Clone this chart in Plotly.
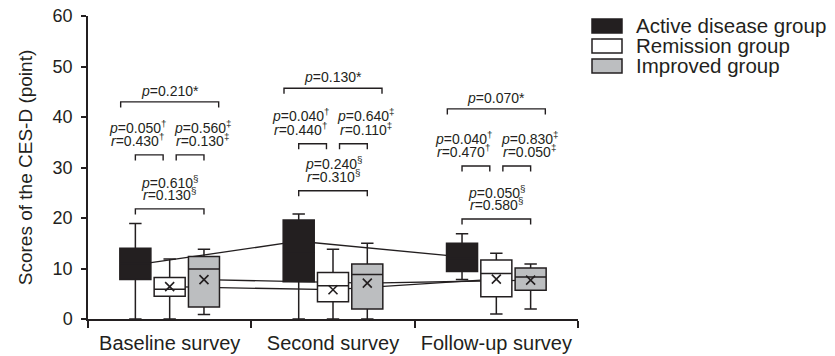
import plotly.graph_objects as go

# ---------------- data ----------------
groups = ["Baseline survey", "Second survey", "Follow-up survey"]
series = ["Active disease group", "Remission group", "Improved group"]

active_q1 = [7.8, 7.4, 9.4]
active_median = [11.0, 13.0, 12.0]
active_q3 = [14.0, 19.6, 15.0]
active_low = [0.0, 0.0, 7.8]
active_high = [18.9, 20.8, 16.9]
active_mean = [10.7, 15.4, 12.3]

remission_q1 = [4.5, 3.4, 4.4]
remission_median = [5.9, 6.6, 9.0]
remission_q3 = [8.2, 9.2, 11.7]
remission_low = [0.0, 0.0, 1.0]
remission_high = [11.9, 13.8, 13.0]
remission_mean = [6.4, 5.8, 7.9]

improved_q1 = [2.4, 2.0, 5.7]
improved_median = [9.9, 8.8, 8.3]
improved_q3 = [12.4, 10.9, 10.1]
improved_low = [0.9, 0.0, 2.0]
improved_high = [13.8, 15.0, 10.9]
improved_mean = [7.8, 7.1, 7.7]

# statistics text (overall, active vs remission, remission vs improved, active vs improved)
p_all = ["0.210", "0.130", "0.070"]
p_ar = ["0.050", "0.040", "0.040"]
r_ar = ["0.430", "0.440", "0.470"]
p_ri = ["0.560", "0.640", "0.830"]
r_ri = ["0.130", "0.110", "0.050"]
p_ai = ["0.610", "0.240", "0.050"]
r_ai = ["0.130", "0.310", "0.580"]

# bracket heights (score units)
lvl_all = [43.0, 45.7, 41.6]
lvl_pair = [32.5, 34.7, 30.3]
lvl_ai = [21.8, 25.4, 19.8]

yticks = [0, 10, 20, 30, 40, 50, 60]

# ---------------- style ----------------
INK = "#231f20"
FONT = "Liberation Sans, Arial, Helvetica, sans-serif"
OFF = 0.21          # box offset within group
BW = 0.19           # box width
fills = ["#231f20", "#ffffff", "#bcbec0"]

stats = [
    (active_q1, active_median, active_q3, active_low, active_high, active_mean),
    (remission_q1, remission_median, remission_q3, remission_low, remission_high, remission_mean),
    (improved_q1, improved_median, improved_q3, improved_low, improved_high, improved_mean),
]
offsets = [-OFF, 0.0, OFF]
gx = list(range(len(groups)))

fig = go.Figure()

# mean connecting lines (bottom layer)
for s, (st, off) in enumerate(zip(stats, offsets)):
    fig.add_trace(go.Scatter(
        x=[g + off for g in gx], y=st[5], mode="lines",
        line=dict(color=INK, width=1.3), showlegend=False, hoverinfo="skip",
        xaxis="x", yaxis="y"))

# boxes (middle layer)
for s, (st, off) in enumerate(zip(stats, offsets)):
    q1, med, q3, lo, hi, mn = st
    fig.add_trace(go.Box(
        x=[g + off for g in gx], q1=q1, median=med, q3=q3,
        lowerfence=lo, upperfence=hi, name=series[s],
        width=BW, whiskerwidth=0.4, boxpoints=False,
        fillcolor=fills[s], line=dict(color=INK, width=1.5),
        showlegend=False, xaxis="x2", yaxis="y2"))

# mean markers (top layer)
for s, (st, off) in enumerate(zip(stats, offsets)):
    if s == 0:
        continue
    fig.add_trace(go.Scatter(
        x=[g + off for g in gx], y=st[5], mode="markers",
        marker=dict(symbol="x-thin", size=9, line=dict(color=INK, width=1.6)),
        showlegend=False, hoverinfo="skip", xaxis="x3", yaxis="y3"))

# ---------------- brackets & annotations ----------------
shapes = []
annotations = []
LEG = 1.1


def bracket(x0, x1, y, leg=LEG):
    shapes.append(dict(type="path", xref="x", yref="y",
                       path=f"M {x0},{y - leg} L {x0},{y} L {x1},{y} L {x1},{y - leg}",
                       line=dict(color=INK, width=1.4)))


def text(x, y, t, size=14):
    annotations.append(dict(x=x, y=y, xref="x", yref="y", text=t, showarrow=False,
                            xanchor="center", yanchor="middle",
                            font=dict(family=FONT, size=size, color=INK)))


for g in gx:
    bracket(g - 0.30, g + 0.30, lvl_all[g])
    text(g, lvl_all[g] + 2.2, f"<i>p</i>={p_all[g]}*")
    bracket(g - OFF, g - 0.04, lvl_pair[g])
    bracket(g + 0.04, g + OFF, lvl_pair[g])
    text(g - 0.20, lvl_pair[g] + 5.6, f"<i>p</i>={p_ar[g]}<sup>†</sup>")
    text(g - 0.20, lvl_pair[g] + 3.0, f"<i>r</i>={r_ar[g]}<sup>†</sup>")
    text(g + 0.20, lvl_pair[g] + 5.6, f"<i>p</i>={p_ri[g]}<sup>‡</sup>")
    text(g + 0.20, lvl_pair[g] + 3.0, f"<i>r</i>={r_ri[g]}<sup>‡</sup>")
    bracket(g - OFF, g + OFF, lvl_ai[g])
    text(g, lvl_ai[g] + 5.4, f"<i>p</i>={p_ai[g]}<sup>§</sup>")
    text(g, lvl_ai[g] + 2.9, f"<i>r</i>={r_ai[g]}<sup>§</sup>")

# custom legend (paper coords)
PLOT_W = 490.0
PLOT_H = 303.0
for i, name in enumerate(series):
    cy = 0.967 - i * (20.0 / PLOT_H)
    hh = 7.0 / PLOT_H
    shapes.append(dict(type="rect", xref="paper", yref="paper",
                       x0=(592 - 88) / PLOT_W, x1=(622 - 88) / PLOT_W,
                       y0=cy - hh, y1=cy + hh,
                       fillcolor=fills[i], line=dict(color=INK, width=1.5)))
    annotations.append(dict(x=(634 - 88) / PLOT_W, y=cy, xref="paper", yref="paper",
                            text=name, showarrow=False, xanchor="left", yanchor="middle",
                            font=dict(family=FONT, size=20.5, color=INK)))

hidden = dict(range=[-0.5, 2.5], visible=False, fixedrange=True)
hiddeny = dict(range=[0, 60], visible=False, fixedrange=True)

fig.update_layout(
    width=835, height=356,
    margin=dict(l=88, r=257, t=16, b=37, autoexpand=False),
    paper_bgcolor="white", plot_bgcolor="white",
    font=dict(family=FONT, color=INK),
    boxmode="overlay",
    showlegend=False,
    shapes=shapes, annotations=annotations,
    xaxis=dict(range=[-0.5, 2.5], tickvals=gx, ticktext=groups, automargin=False,
               ticks="outside", ticklen=5, tickcolor="rgba(0,0,0,0)",
               tickfont=dict(size=20, family=FONT, color=INK),
               showline=True, linecolor=INK, linewidth=1.5,
               showgrid=False, zeroline=False,
               minor=dict(tickmode="array", tickvals=[-0.5, 0.5, 1.5, 2.5],
                          ticks="outside", ticklen=7, tickcolor=INK, tickwidth=1.5)),
    yaxis=dict(range=[0, 60], tickvals=yticks, ticks="outside", ticklen=5,
               tickcolor=INK, tickwidth=1.5, automargin=False,
               ticklabelstandoff=5,
               tickfont=dict(size=18, family=FONT, color=INK),
               showline=True, linecolor=INK, linewidth=1.5,
               showgrid=False, zeroline=False,
               title=dict(text="Scores of the CES-D (point)", standoff=15,
                          font=dict(size=19, family=FONT, color=INK))),
    xaxis2=dict(overlaying="x", **hidden),
    yaxis2=dict(overlaying="y", **hiddeny),
    xaxis3=dict(overlaying="x", **hidden),
    yaxis3=dict(overlaying="y", **hiddeny),
)

fig.write_html(
    "out.html",
    config={"displayModeBar": False},
    post_script="document.body.style.margin='0';document.body.style.overflow='hidden';",
)
